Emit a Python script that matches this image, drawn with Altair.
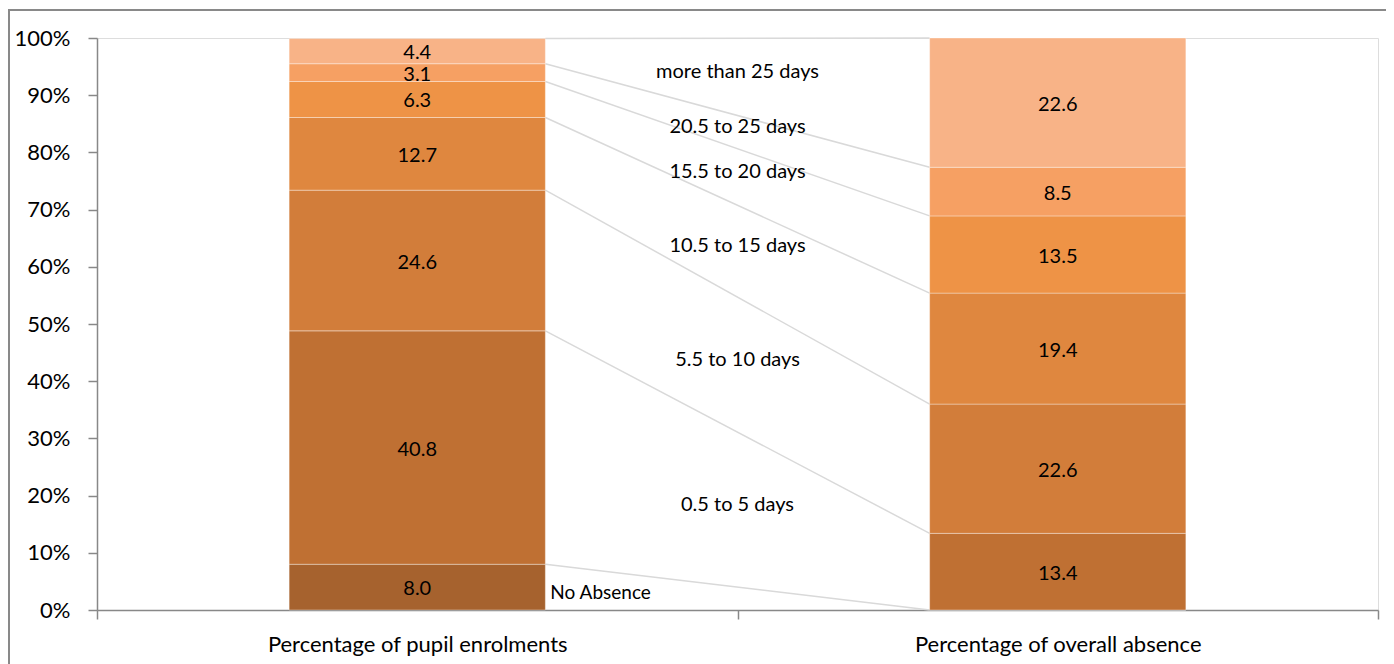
import altair as alt
import pandas as pd

categories = ["Percentage of pupil enrolments", "Percentage of overall absence"]
bands = ["No Absence", "0.5 to 5 days", "5.5 to 10 days", "10.5 to 15 days",
         "15.5 to 20 days", "20.5 to 25 days", "more than 25 days"]
enrolments = [8.0, 40.8, 24.6, 12.7, 6.3, 3.1, 4.4]
absence = [0.0, 13.4, 22.6, 19.4, 13.5, 8.5, 22.6]
colors = ["#A6622E", "#BF7033", "#D27D3A", "#DF873F", "#EE9346", "#F6A063", "#F8B387"]
y_ticks = [0, 10, 20, 30, 40, 50, 60, 70, 80, 90, 100]

FONT = "Lato"
BAR_HALF = 0.2

# stacked segments
seg_rows = []
cums = []
for ci, (cat, vals) in enumerate(zip(categories, [enrolments, absence])):
    cum = 0.0
    tops = []
    for b, v in zip(bands, vals):
        seg_rows.append(dict(category=cat, pos=ci + 0.5, band=b, value=v,
                             y0=cum, y1=cum + v, ymid=cum + v / 2,
                             label=(f"{v:.1f}" if v > 0 else "")))
        cum += v
        tops.append(cum)
    cums.append(tops)
seg = pd.DataFrame(seg_rows)

# connector lines between the tops of matching segments
left_x = 0.5 + BAR_HALF
right_x = 1.5 - BAR_HALF
conn = pd.DataFrame([dict(band=b, xl=left_x, xr=right_x, yl=l, yr=r)
                     for b, l, r in zip(bands, cums[0], cums[1])])

# band names between the bars (midway between neighbouring connectors)
mids = [(l + r) / 2 for l, r in zip(cums[0], cums[1])]
mid_rows = []
for i in range(1, len(bands)):
    mid_rows.append(dict(band=bands[i], x=1.0, y=(mids[i - 1] + mids[i]) / 2))
mid_lab = pd.DataFrame(mid_rows)
noabs = pd.DataFrame([dict(band=bands[0], x=left_x, y=enrolments[0] / 2)])

label_expr = " : ".join(
    [f"datum.value == {i + 0.5} ? '{c}'" for i, c in enumerate(categories)]) + " : ''"

x_scale = alt.Scale(domain=[0, 2], nice=False, zero=False)
y_scale = alt.Scale(domain=[0, 100], nice=False)

x_axis = alt.Axis(values=[0, 0.5, 1, 1.5, 2], labelExpr=label_expr, title=None,
                  grid=False, domainColor="#888888", domainWidth=1.5,
                  tickColor={"condition": {"test": "datum.value % 1 != 0", "value": "transparent"},
                             "value": "#888888"},
                  tickSize=9, tickWidth=1.5, labelFontSize=22, labelColor="#000000",
                  labelFont=FONT, labelPadding=15, labelOverlap=False, labelFlush=False,
                  labelLimit=0)
y_axis = alt.Axis(values=y_ticks, labelExpr="datum.value + '%'", title=None, grid=False,
                  domainColor="#888888", domainWidth=1.5, tickColor="#888888",
                  tickSize=9, tickWidth=1.5, labelFontSize=22, labelColor="#000000",
                  labelFont=FONT, labelPadding=18)

bars = alt.Chart(seg).mark_rect(stroke="#ffffff", strokeOpacity=0.35, strokeWidth=1).encode(
    x=alt.X("x0:Q", scale=x_scale, axis=x_axis),
    x2="x1:Q",
    y=alt.Y("y0:Q", scale=y_scale, axis=y_axis),
    y2="y1:Q",
    color=alt.Color("band:N", scale=alt.Scale(domain=bands, range=colors), legend=None),
).transform_calculate(x0=f"datum.pos - {BAR_HALF}", x1=f"datum.pos + {BAR_HALF}")

values = alt.Chart(seg).mark_text(font=FONT, fontSize=20, color="#000000",
                                  baseline="middle", dy=2).encode(
    x="pos:Q", y="ymid:Q", text="label:N")

lines = alt.Chart(conn).mark_rule(color="#D9D9D9", strokeWidth=1.5).encode(
    x="xl:Q", x2="xr:Q", y="yl:Q", y2="yr:Q")

mids_txt = alt.Chart(mid_lab).mark_text(font=FONT, fontSize=20, color="#000000",
                                        baseline="middle", dy=-5).encode(
    x="x:Q", y="y:Q", text="band:N")

noabs_txt = alt.Chart(noabs).mark_text(font=FONT, fontSize=19, color="#000000",
                                       align="left", baseline="middle", dx=5, dy=6).encode(
    x="x:Q", y="y:Q", text="band:N")

frame = alt.Chart(pd.DataFrame({"a": [0]})).mark_rect(
    fill=None, stroke="#898989", strokeWidth=2).encode(
    x=alt.value(-88), x2=alt.value(1340), y=alt.value(-28), y2=alt.value(700))

chart = alt.layer(frame, lines, bars, values, mids_txt, noabs_txt).properties(
    width=1281, height=572,
    autosize=alt.AutoSizeParams(type="none"),
    padding={"left": 89, "top": 30, "right": 8, "bottom": 54},
).configure_view(stroke=None).configure(background="#ffffff")

chart.save("out.html", embed_options={"renderer": "svg", "actions": False})
